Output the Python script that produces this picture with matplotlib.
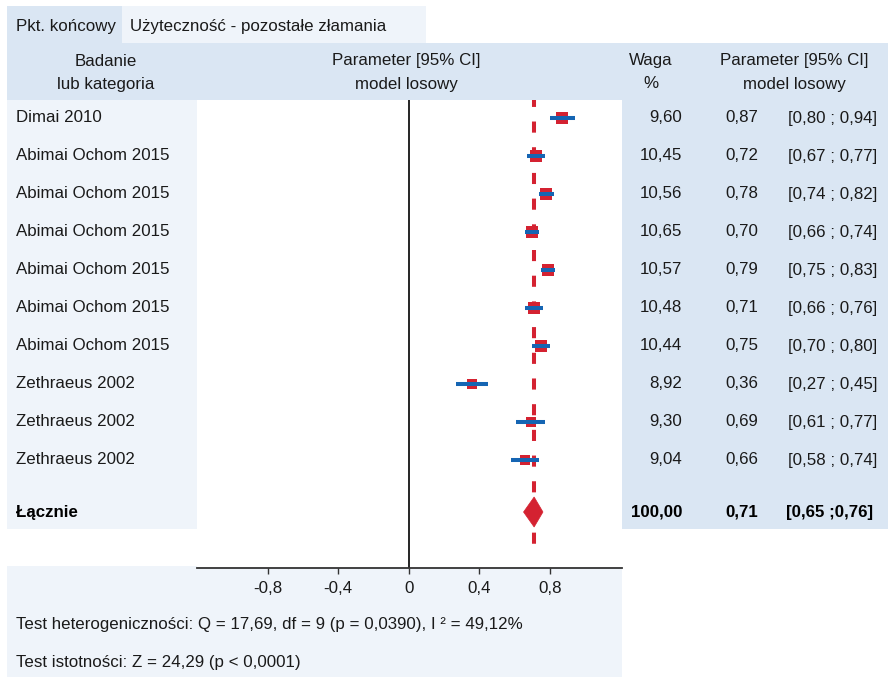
import matplotlib
matplotlib.use("Agg")
import matplotlib.pyplot as plt
from matplotlib.patches import Rectangle, Polygon

plt.rcParams['font.family'] = ['Liberation Sans', 'DejaVu Sans']
plt.rcParams['lines.scale_dashes'] = False

# ---- data ----
studies = ["Dimai 2010", "Abimai Ochom 2015", "Abimai Ochom 2015", "Abimai Ochom 2015",
           "Abimai Ochom 2015", "Abimai Ochom 2015", "Abimai Ochom 2015",
           "Zethraeus 2002", "Zethraeus 2002", "Zethraeus 2002"]
weights = [9.60, 10.45, 10.56, 10.65, 10.57, 10.48, 10.44, 8.92, 9.30, 9.04]
estimates = [0.87, 0.72, 0.78, 0.70, 0.79, 0.71, 0.75, 0.36, 0.69, 0.66]
ci_low = [0.80, 0.67, 0.74, 0.66, 0.75, 0.66, 0.70, 0.27, 0.61, 0.58]
ci_high = [0.94, 0.77, 0.82, 0.74, 0.83, 0.76, 0.80, 0.45, 0.77, 0.74]
pooled_label = "Łącznie"
pooled_weight = 100.00
pooled_est = 0.71
pooled_low = 0.65
pooled_high = 0.76
x_ticks = [-0.8, -0.4, 0, 0.4, 0.8]
endpoint_label = "Pkt. końcowy"
endpoint_value = "Użyteczność - pozostałe złamania"
heterogeneity = "Test heterogeniczności: Q = 17,69, df = 9 (p = 0,0390), I ² = 49,12%"
significance = "Test istotności: Z = 24,29 (p < 0,0001)"


def pl(v):
    """Format a number with a comma decimal separator."""
    return f"{v:.2f}".replace(".", ",")


def tick_fmt(v):
    return "0" if v == 0 else f"{v:.1f}".replace(".", ",")


W, H = 888, 677
RED = "#d42231"
BLUE = "#1565b3"
HEAD = "#dae6f3"
LIGHT = "#eff4fa"
TXT = "#1a1a1a"
FS = 12.2

fig = plt.figure(figsize=(W / 100, H / 100), dpi=100)

# background layer in pixel units
bg = fig.add_axes([0, 0, 1, 1])
bg.set_xlim(0, W)
bg.set_ylim(H, 0)
bg.axis("off")

def box(x0, y0, x1, y1, color):
    bg.add_patch(Rectangle((x0, y0), x1 - x0, y1 - y0, facecolor=color,
                           edgecolor="none", zorder=0))

box(7, 6, 122, 43, HEAD)
box(122, 6, 426, 43, LIGHT)
box(7, 43, W, 100, HEAD)
box(7, 100, 198, 529, LIGHT)
box(620, 100, W, 529, HEAD)
box(7, 566, 622, H, LIGHT)

# top line: endpoint
bg.text(16, 26, endpoint_label, fontsize=FS, color=TXT, va="center", ha="left")
bg.text(130, 26, endpoint_value, fontsize=FS, color=TXT, va="center", ha="left")

# column headers
for x, l1, l2 in [(106, "Badanie", "lub kategoria"),
                  (406, "Parameter [95% CI]", "model losowy"),
                  (651, "Waga", "%"),
                  (794, "Parameter [95% CI]", "model losowy")]:
    bg.text(x, 61, l1, fontsize=FS, color=TXT, ha="center", va="center")
    bg.text(x, 84, l2, fontsize=FS, color=TXT, ha="center", va="center")

row_y = [118 + 38 * i for i in range(len(studies))]
total_y = 512

for y, name, w, e, lo, hi in zip(row_y, studies, weights, estimates, ci_low, ci_high):
    bg.text(16, y, name, fontsize=FS, color=TXT, ha="left", va="center")
    bg.text(682, y, pl(w), fontsize=FS, color=TXT, ha="right", va="center")
    bg.text(725, y, pl(e), fontsize=FS, color=TXT, ha="left", va="center")
    bg.text(788, y, f"[{pl(lo)} ; {pl(hi)}]", fontsize=FS, color=TXT,
            ha="left", va="center")

bg.text(16, total_y, pooled_label, fontsize=FS, color="black", ha="left",
        va="center", fontweight="bold")
bg.text(682, total_y, pl(pooled_weight), fontsize=FS, color="black",
        ha="right", va="center", fontweight="bold")
bg.text(725, total_y, pl(pooled_est), fontsize=FS, color="black",
        ha="left", va="center", fontweight="bold")
bg.text(786, total_y, f"[{pl(pooled_low)} ;{pl(pooled_high)}]", fontsize=FS,
        color="black", ha="left", va="center", fontweight="bold")

bg.text(16, 624, heterogeneity, fontsize=FS, color=TXT, ha="left", va="center")
bg.text(16, 662, significance, fontsize=FS, color=TXT, ha="left", va="center")

# forest plot axes
ax = fig.add_axes([197 / W, (H - 567.5) / H, (621.5 - 197) / W, (567.5 - 100) / H])
ax.set_facecolor("white")
ax.set_xlim(-1.2, 1.205)
ax.set_ylim(567.5, 100)

ax.vlines(pooled_est, 100, 552, colors=RED, linewidth=2.9,
          linestyles=[(3, (8, 10.5))], zorder=2)
ax.axvline(0, color="black", linewidth=1.2, zorder=1)

for y, w, e, lo, hi in zip(row_y, weights, estimates, ci_low, ci_high):
    ax.plot(e, y, marker="s", markersize=8.4 * (w / 10.5) ** 0.5, color=RED,
            markeredgewidth=0, zorder=3)
    ax.hlines(y, lo, hi, colors=BLUE, linewidth=2.9, zorder=4)

ax.add_patch(Polygon([(pooled_low, total_y), (pooled_est, total_y - 15),
                      (pooled_high, total_y), (pooled_est, total_y + 15)],
                     closed=True, facecolor=RED, edgecolor=RED, linewidth=0.5,
                     zorder=5))

for s in ("top", "right", "left"):
    ax.spines[s].set_visible(False)
ax.spines["bottom"].set_color("#333333")
ax.spines["bottom"].set_linewidth(1.3)
ax.set_yticks([])
ax.set_xticks(x_ticks)
ax.set_xticklabels([tick_fmt(t) for t in x_ticks], fontsize=FS, color=TXT)
ax.tick_params(axis="x", direction="out", length=4, width=1, color="#333333", pad=5.5)

fig.savefig("out.png", dpi=100)
